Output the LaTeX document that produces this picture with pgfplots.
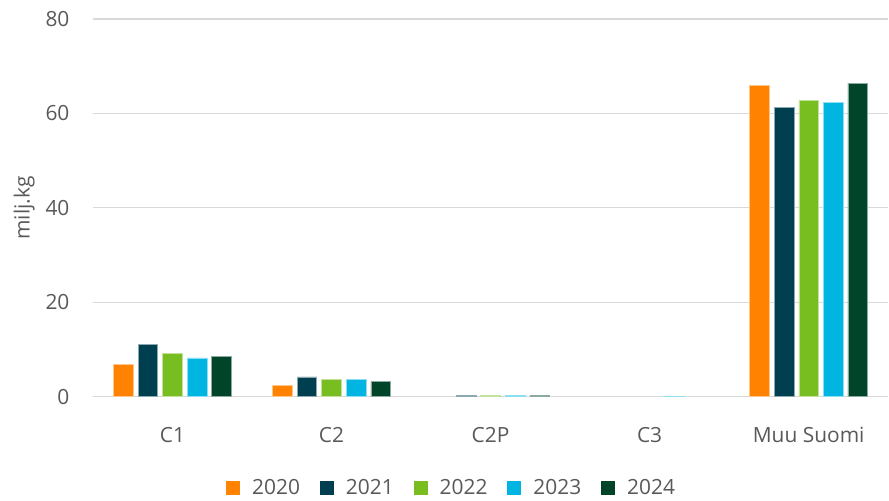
\documentclass[border=0pt]{standalone}
\usepackage{fontspec}
\setmainfont{Open Sans}
\usepackage{pgfplots}
\pgfplotsset{compat=1.18}

\definecolor{c20}{HTML}{FF8200}
\definecolor{c21}{HTML}{003F50}
\definecolor{c22}{HTML}{78BE20}
\definecolor{c23}{HTML}{00B5E2}
\definecolor{c24}{HTML}{00442A}
\definecolor{txt}{HTML}{595959}
\definecolor{grd}{HTML}{D9D9D9}

\begin{document}
\begin{tikzpicture}
\begin{axis}[
    name=ax,
    scale only axis,
    width=796bp, height=378bp,
    ybar=4.9bp, bar width=19.7bp,
    xmin=-0.5, xmax=4.5,
    ymin=0, ymax=80,
    ytick={0,20,40,60,80},
    xtick={0,1,2,3,4},
    xticklabels={C1,C2,C2P,C3,Muu Suomi},
    ymajorgrids, grid style={grd, line width=1.2bp},
    axis x line*=bottom, axis y line*=left,
    x axis line style={grd, line width=1.6bp},
    y axis line style={draw=none},
    major tick length=0pt,
    /pgf/number format/assume math mode=true,
    font=\fontsize{21}{25}\selectfont,
    tick label style={txt},
    y tick label style={xshift=-20bp},
    x tick label style={yshift=-27bp},
    ylabel={milj.kg}, ylabel style={txt, yshift=4bp},
    legend style={draw=none, at={(0.5,-0.18)}, anchor=north, xshift=-39bp, yshift=-11bp,
        legend columns=5, text=txt,
        /tikz/every odd column/.append style={column sep=10bp},
        /tikz/every even column/.append style={column sep=18bp}},
    legend image code/.code={\fill[#1, draw=none] (0bp,-7bp) rectangle (14bp,7bp);},
    clip=false,
]
\addplot[fill=c20, draw=c20!45!white, line width=0.6bp] coordinates {(0,6.8) (1,2.4) (4,66.0)};
\addlegendentry{2020}
\addplot[fill=c21, draw=c21!45!white, line width=0.6bp] coordinates {(0,11.0) (1,4.2) (2,0.2) (4,61.2)};
\addlegendentry{2021}
\addplot[fill=c22, draw=c22!45!white, line width=0.6bp] coordinates {(0,9.2) (1,3.6) (2,0.2) (4,62.7)};
\addlegendentry{2022}
\addplot[fill=c23, draw=c23!45!white, line width=0.6bp] coordinates {(0,8.2) (1,3.7) (2,0.2) (3,0.1) (4,62.4)};
\addlegendentry{2023}
\addplot[fill=c24, draw=c24!45!white, line width=0.6bp] coordinates {(0,8.6) (1,3.2) (2,0.2) (4,66.4)};
\addlegendentry{2024}
\end{axis}
\path (ax.south west) ++(-93bp,-103bp) (ax.north east) ++(0bp,19bp);
\end{tikzpicture}
\end{document}
